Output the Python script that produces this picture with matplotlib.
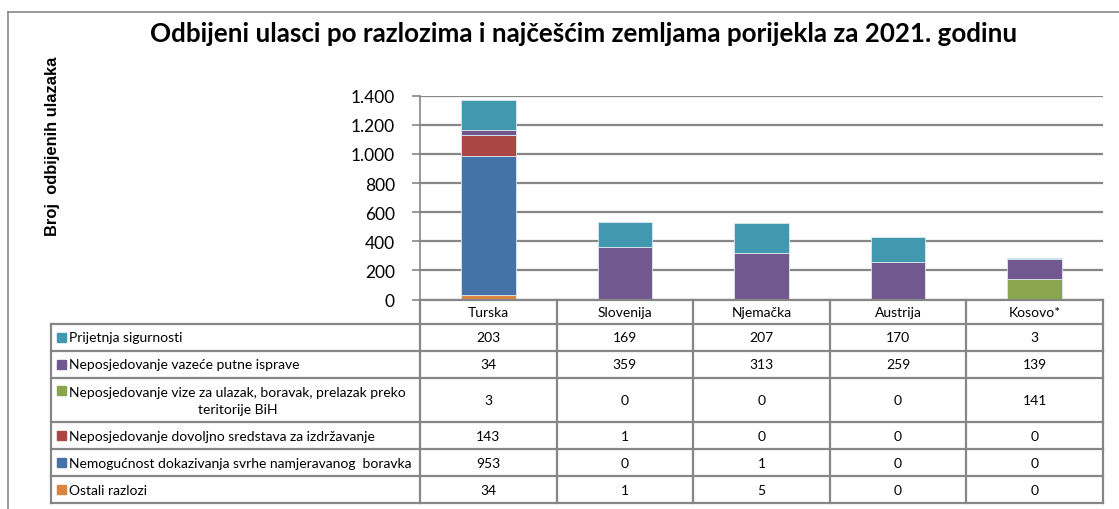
import matplotlib
matplotlib.use('Agg')
import matplotlib.pyplot as plt
import numpy as np
from matplotlib.patches import Rectangle

countries = ['Turska', 'Slovenija', 'Njemačka', 'Austrija', 'Kosovo*']

# series listed bottom-to-top in the stack
reasons = ['Ostali razlozi',
           'Nemogućnost dokazivanja svrhe namjeravanog  boravka',
           'Neposjedovanje dovoljno sredstava za izdržavanje',
           'Neposjedovanje vize za ulazak, boravak, prelazak preko\nteritorije BiH',
           'Neposjedovanje vazeće putne isprave',
           'Prijetnja sigurnosti']
ostali = [34, 1, 5, 0, 0]
nemogucnost = [953, 0, 1, 0, 0]
sredstva = [143, 1, 0, 0, 0]
vize = [3, 0, 0, 0, 141]
isprave = [34, 359, 313, 259, 139]
prijetnja = [203, 169, 207, 170, 3]
colors = ['#DB843D', '#4572A7', '#AA4643', '#89A54E', '#71588F', '#4198AF']

yticks = [0, 200, 400, 600, 800, 1000, 1200, 1400]
ytick_labels = ['0', '200', '400', '600', '800', '1.000', '1.200', '1.400']

series = [ostali, nemogucnost, sredstva, vize, isprave, prijetnja]

W, H = 1119, 510
fig = plt.figure(figsize=(W / 100, H / 100), dpi=100)
grid_c = '#868686'
font = 'Lato'


def fx(px):
    return px / W


def fy(py):
    return 1 - py / H


# outer chart frame
fig.add_artist(plt.Line2D([fx(8), fx(8)], [fy(13), fy(515)], color=grid_c, lw=1.2))
fig.add_artist(plt.Line2D([fx(8), fx(1119)], [fy(13), fy(13)], color=grid_c, lw=1.2))

# plot area
x0, x1, ytop, ybot = 420, 1103, 96.7, 300.5
ax = fig.add_axes([fx(x0), fy(ybot), fx(x1 - x0), (ybot - ytop) / H])
x = np.arange(len(countries))
bottom = np.zeros(len(countries))
for vals, c in zip(series, colors):
    ax.bar(x, vals, 0.4, bottom=bottom, color=c, edgecolor='#dbe8f0', linewidth=0.6, zorder=3)
    bottom += np.array(vals)
ax.set_xlim(-0.5, len(countries) - 0.5)
ax.set_ylim(0, 1400)
ax.set_yticks(yticks)
ax.set_yticklabels(ytick_labels, fontsize=12.5, family=font)
ax.tick_params(axis='y', length=6, color=grid_c, width=1.2, pad=12)
ax.set_xticks([])
ax.grid(axis='y', color=grid_c, lw=1.6, zorder=0)
for s in ['top', 'right', 'bottom']:
    ax.spines[s].set_visible(False)
ax.spines['left'].set_color(grid_c)
ax.spines['left'].set_linewidth(1.2)

# data table below the plot
tx0, ty0, ty1 = 51, 300.5, 504
tab = fig.add_axes([fx(tx0), fy(ty1), fx(x1 - tx0), (ty1 - ty0) / H])
tab.set_xlim(tx0, x1)
tab.set_ylim(ty1, ty0)
tab.axis('off')
colw = (x1 - x0) / len(countries)
row_edges = [300.5, 325, 351.7, 379, 423.3, 450, 477.3, 504]
lw = 1.6

# horizontal lines
for i, yv in enumerate(row_edges):
    left = x0 if i == 0 else tx0
    tab.plot([left, x1], [yv, yv], color=grid_c, lw=lw, clip_on=False)
# vertical lines
tab.plot([tx0, tx0], [row_edges[1], ty1], color=grid_c, lw=lw, clip_on=False)
for j in range(len(countries) + 1):
    xv = x0 + j * colw
    tab.plot([xv, xv], [row_edges[0], ty1], color=grid_c, lw=lw, clip_on=False)

# header
for j, name in enumerate(countries):
    tab.text(x0 + (j + 0.5) * colw, (row_edges[0] + row_edges[1]) / 2, name,
             ha='center', va='center', fontsize=10, family=font)

# rows, top-to-bottom as in the table
order = list(range(len(series)))[::-1]
for r, k in enumerate(order):
    yc = (row_edges[r + 1] + row_edges[r + 2]) / 2
    label = reasons[k]
    tab.add_patch(Rectangle((tx0 + 6, yc - 4.5 if '\n' not in label else yc - 14), 9, 9,
                            color=colors[k], clip_on=False))
    if '\n' in label:
        tab.text(tx0 + 18, yc, label, ha='left', va='center', fontsize=10,
                 family=font, multialignment='center', linespacing=1.5)
    else:
        tab.text(tx0 + 18, yc, label, ha='left', va='center', fontsize=10, family=font)
    for j, v in enumerate(series[k]):
        tab.text(x0 + (j + 0.5) * colw, yc, str(v), ha='center', va='center',
                 fontsize=10, family=font)

fig.text(fx(584), fy(34), 'Odbijeni ulasci po razlozima i najčešćim zemljama porijekla za 2021. godinu',
         ha='center', va='center', fontsize=18.7, fontweight='bold', family=font)
fig.text(fx(53), fy(146), 'Broj  odbijenih ulazaka', rotation=90, ha='center', va='center',
         fontsize=11.9, fontweight='bold', family='Liberation Sans')

fig.savefig('out.png', dpi=100)
